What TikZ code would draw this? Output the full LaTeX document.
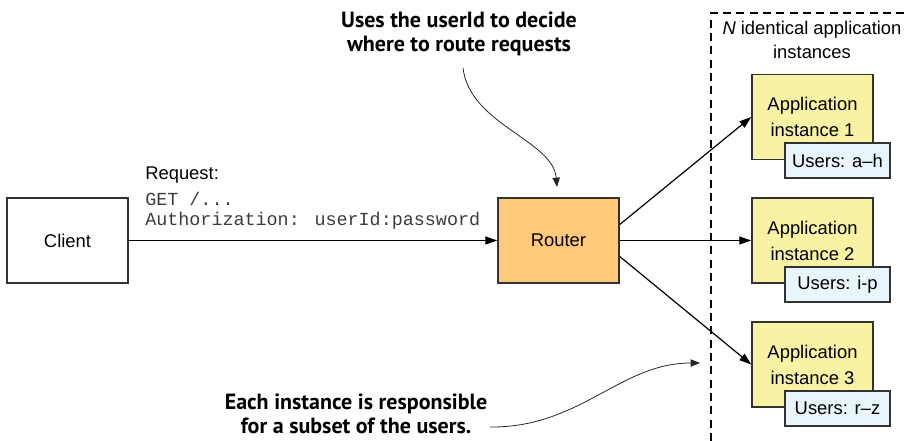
\documentclass[tikz,border=0pt]{standalone}
\usepackage{fontspec}
\setmainfont{Liberation Sans}
\newfontfamily\monofont{Liberation Mono}
\newfontfamily\notefont{PT Sans}
\usetikzlibrary{arrows.meta}
\definecolor{routerfill}{RGB}{255,201,122}
\definecolor{appfill}{RGB}{248,242,164}
\definecolor{userfill}{RGB}{232,245,252}
\definecolor{boxdraw}{RGB}{50,50,50}
\definecolor{monogray}{RGB}{60,60,60}
\begin{document}
\begin{tikzpicture}[x=0.75pt,y=-0.75pt,
  every node/.style={font=\fontsize{13.8}{16.5}\selectfont, inner sep=0pt},
  bigbox/.style={draw=boxdraw, line width=1.1pt, minimum width={121*0.75pt}, minimum height={85*0.75pt}, align=center},
  userbox/.style={draw=boxdraw, line width=1.1pt, fill=userfill, minimum width={105*0.75pt}, minimum height={35*0.75pt}},
  conn/.style={line width=0.9pt, -{Triangle[length=9pt,width=6pt]}},
  noteconn/.style={line width=0.6pt, black!85, -{Triangle[length=7pt,width=5.5pt]}},
  note/.style={font=\notefont\bfseries\fontsize{16.5}{18}\selectfont, align=center},
  dashbox/.style={line width=0.8pt, dash pattern=on 6pt off 4pt}
]
\useasboundingbox (0,0) rectangle (908,441);

% dashed group border
\draw[dashbox] (711,441) -- (711,13) -- (910,13);
\node (ntext) at (812,40) [align=center] {\textit{N} identical application\\[1.5pt]instances};

% main boxes
\node[bigbox] (client) at (67.5,240.5) {Client};
\node[bigbox, fill=routerfill] (router) at (558.5,240.5) {Router};

% application instances
\node[bigbox, fill=appfill] (app1) at (812.5,117) {Application\\[3pt]instance 1};
\node[userbox] (u1) at (837.5,160.5) {Users: a\textendash h};
\node[bigbox, fill=appfill] (app2) at (812.5,240.5) {Application\\[3pt]instance 2};
\node[userbox] (u2) at (837.5,284.5) {Users: i-p};
\node[bigbox, fill=appfill] (app3) at (812.5,364.5) {Application\\[3pt]instance 3};
\node[userbox] (u3) at (837.5,408.5) {Users: r\textendash z};

% request label
\node[anchor=west] (req) at (145,175) {Request:};
\node[anchor=west, font=\monofont\fontsize{13.8}{16}\selectfont, text=monogray] (get) at (145,199) {GET /...};
\node[anchor=west, font=\monofont\fontsize{13.8}{16}\selectfont, text=monogray] (auth) at (145,221) {Authorization: userId:password};

% connectors
\draw[conn] (client.east) -- (router.west);
\draw[conn] ([yshift={16*0.75pt}]router.east) -- (app1.west);
\draw[conn] (router.east) -- (app2.west);
\draw[conn] ([yshift={-16*0.75pt}]router.east) -- (app3.west);

% annotations
\node[note] (note1) at (459,34) {Uses the userId to decide\\where to route requests};
\node[note] (note2) at (356,414) {Each instance is responsible\\for a subset of the users.};
\coordinate (n1s) at (463,68);
\coordinate (n1e) at (557,187);
\coordinate (n2s) at (490,427);
\coordinate (n2e) at (700,363);
\draw[noteconn] (n1s) .. controls (470,125) and (553,140) .. (n1e);
\draw[noteconn] (n2s) .. controls (580,428) and (620,363) .. (n2e);
\end{tikzpicture}
\end{document}
